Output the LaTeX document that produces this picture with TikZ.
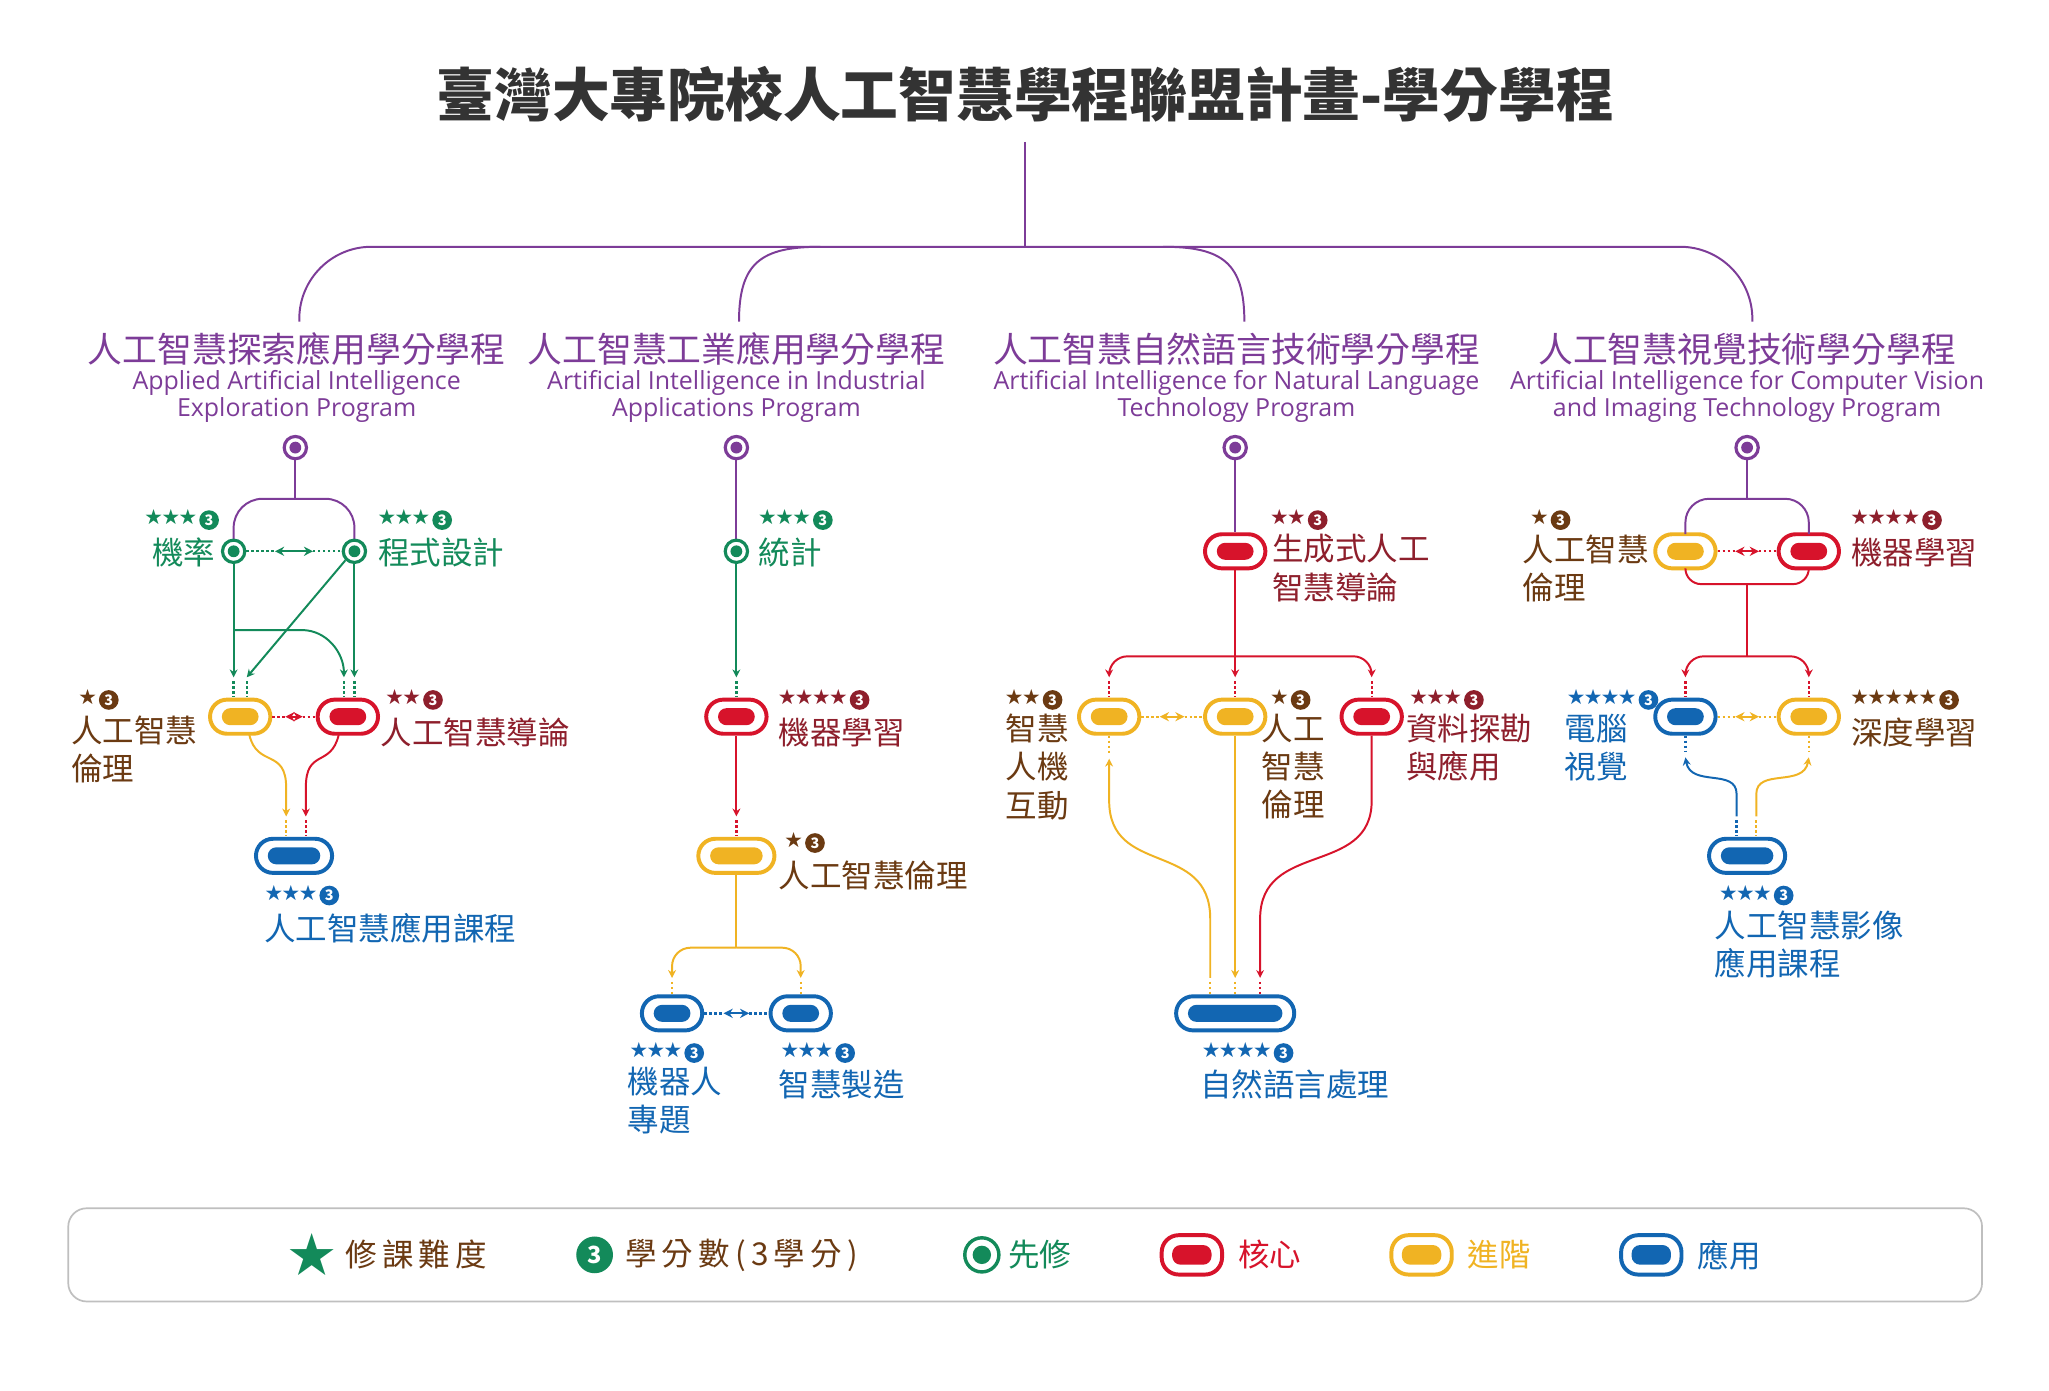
\documentclass[tikz,border=0pt]{standalone}
\usepackage{fontspec}
\setmainfont{Noto Sans CJK TC}
\newfontfamily\eng{Open Sans}
\usetikzlibrary{arrows.meta,calc}
\definecolor{cpur}{HTML}{7D3C98}
\definecolor{cgrn}{HTML}{138A5A}
\definecolor{corg}{HTML}{F0B323}
\definecolor{cred}{HTML}{D7132B}
\definecolor{cblu}{HTML}{1266B2}
\definecolor{cbrn}{HTML}{6B3A12}
\definecolor{cdrd}{HTML}{8E1F2C}
\definecolor{ctit}{HTML}{333333}
\newcommand\credit[1]{\tikz[baseline=-0.38ex]\node[circle,fill=#1,text=white,inner sep=0pt,minimum size=15pt,font=\bfseries\fontsize{11}{11}\selectfont]{3};}
\newcommand\pill[5]{\node[pillout=#4,minimum width=#5] (#1) at (#2,#3) {};
  \node[pillin=#4,minimum width={#5-18}] at (#2,#3) {};}
\newcommand\ring[4]{\node[ringo=#4] (#1) at (#2,#3) {}; \fill[#4] (#2,#3) circle (4.5);}
\newcommand\dbl[3]{\draw[#3,dotted,line width=1.8] (#1.east) -- ($(#1.east)!0.3!(#2.west)$);
  \draw[#3,{Stealth[length=7,width=7]}-{Stealth[length=7,width=7]},line width=1.4] ($(#1.east)!0.3!(#2.west)$) -- ($(#1.east)!0.7!(#2.west)$);
  \draw[#3,dotted,line width=1.8] ($(#1.east)!0.7!(#2.west)$) -- (#2.west);}
\begin{document}
\begin{tikzpicture}[x=1pt,y=-1pt,
  pillout/.style={draw=#1,line width=3pt,fill=white,rounded corners=13pt,minimum height=26pt,inner sep=0pt},
  pillin/.style={fill=#1,rounded corners=6.5pt,minimum height=13pt,inner sep=0pt},
  ringo/.style={circle,draw=#1,line width=2.4pt,fill=white,minimum size=17pt,inner sep=0pt},
  lab/.style={font=\fontsize{24}{29}\selectfont,align=left,inner sep=0pt,text=#1},
  st/.style={font=\fontsize{13}{13}\selectfont,inner sep=0pt,text=#1},
  ptit/.style={font=\fontsize{26.5}{28}\selectfont,text=cpur,inner sep=0pt},
  peng/.style={font=\eng\fontsize{19}{21}\selectfont,text=cpur,inner sep=0pt,align=center},
  ln/.style={draw=#1,line width=1.5pt},
  ar/.style={-{Stealth[length=6,width=6]}},
  ra/.style={{Stealth[length=6,width=6]}-},
  dt/.style={draw=#1,dotted,line width=1.8pt}]
\useasboundingbox (0,0) rectangle (1561,1059);
\fill[white] (0,0) rectangle (1561,1059);
% title
\node[font=\bfseries\fontsize{44}{46}\selectfont,text=ctit] (title) at (781,72) {臺灣大專院校人工智慧學程聯盟計畫-學分學程};
\draw[ln=cpur] (781,108) -- (781,188);
\draw[ln=cpur,rounded corners=55] (228,245) -- (228,188) -- (1335,188) -- (1335,245);
\draw[ln=cpur] (563,245) .. controls (563,200) and (580,188) .. (625,188);
\draw[ln=cpur] (948,245) .. controls (948,200) and (931,188) .. (886,188);
% program titles
\foreach \x/\c/\e in {226/人工智慧探索應用學分學程/{Applied Artificial Intelligence\\Exploration Program},
  561/人工智慧工業應用學分學程/{Artificial Intelligence in Industrial\\Applications Program},
  942/人工智慧自然語言技術學分學程/{Artificial Intelligence for Natural Language\\Technology Program},
  1331/人工智慧視覺技術學分學程/{Artificial Intelligence for Computer Vision\\and Imaging Technology Program}}{
  \node[ptit] at (\x,266) {\c};
  \node[peng] at (\x,302) {\e};}
\ring{t1}{225}{341}{cpur}
\ring{t2}{561}{341}{cpur}
\ring{t3}{941}{341}{cpur}
\ring{t4}{1331}{341}{cpur}
% ===== program 1
\draw[ln=cpur] (t1.south) -- (225,380);
\draw[ln=cpur,rounded corners=22] (178,412) -- (178,380) -- (270,380) -- (270,412);
\ring{a1}{178}{420}{cgrn}
\ring{a2}{270}{420}{cgrn}
\dbl{a1}{a2}{cgrn}
\node[lab=cgrn,anchor=east] at (164,421) {機率};
\node[st=cgrn,anchor=east] at (167,396) {★★★\,\credit{cgrn}};
\node[lab=cgrn,anchor=west] at (288,421) {程式設計};
\node[st=cgrn,anchor=west] at (288,396) {★★★\,\credit{cgrn}};
\pill{a3}{183}{546}{corg}{46}
\pill{a4}{265}{546}{cred}{46}
\dbl{a3}{a4}{cred}
\draw[ln=cgrn,ar] (a1.south) -- (178,516);
\draw[ln=cgrn,ar] (a2.south) -- (270,516);
\draw[ln=cgrn,ar] (a2.south west) -- (188,516);
\draw[ln=cgrn,ar] (178,480) -- (230,480) to[out=0,in=90] (262,516);
\foreach \x in {178,188,262,270} \draw[dt=cgrn] (\x,519) -- (\x,531);
\node[lab=cbrn,anchor=north west] at (54,545) {人工智慧\\倫理};
\node[st=cbrn,anchor=west] at (60,533) {★\,\credit{cbrn}};
\node[lab=cdrd,anchor=west] at (290,558) {人工智慧導論};
\node[st=cdrd,anchor=west] at (294,533) {★★\,\credit{cdrd}};
\pill{a5}{224}{652}{cblu}{58}
\draw[ln=corg,ar] (190,560) .. controls (196,585) and (218,570) .. (218,600) -- (218,622);
\draw[ln=cred,ar] (258,560) .. controls (252,585) and (233,570) .. (233,600) -- (233,622);
\draw[dt=corg] (218,625) -- (218,637);
\draw[dt=cred] (233,625) -- (233,637);
\node[st=cblu,anchor=west] at (202,682) {★★★\,\credit{cblu}};
\node[lab=cblu,anchor=west] at (201,707) {人工智慧應用課程};
% ===== program 2
\draw[ln=cpur] (t2.south) -- (561,412);
\ring{b1}{561}{420}{cgrn}
\node[lab=cgrn,anchor=west] at (578,421) {統計};
\node[st=cgrn,anchor=west] at (578,396) {★★★\,\credit{cgrn}};
\pill{b2}{561}{546}{cred}{46}
\draw[ln=cgrn,ar] (b1.south) -- (561,516);
\draw[dt=cgrn] (561,519) -- (561,531);
\node[lab=cdrd,anchor=west] at (593,558) {機器學習};
\node[st=cdrd,anchor=west] at (593,533) {★★★★\,\credit{cdrd}};
\pill{b3}{561}{652}{corg}{58}
\draw[ln=cred,ar] (b2.south) -- (561,622);
\draw[dt=cred] (561,625) -- (561,637);
\node[st=cbrn,anchor=west] at (598,642) {★\,\credit{cbrn}};
\node[lab=cbrn,anchor=west] at (593,667) {人工智慧倫理};
\draw[ln=corg] (b3.south) -- (561,722);
\draw[ln=corg,ar,rounded corners=14] (561,722) -| (512,745);
\draw[ln=corg,ar,rounded corners=14] (561,722) -| (610,745);
\draw[dt=corg] (512,748) -- (512,759);
\draw[dt=corg] (610,748) -- (610,759);
\pill{b4}{512}{772}{cblu}{46}
\pill{b5}{610}{772}{cblu}{46}
\dbl{b4}{b5}{cblu}
\node[st=cblu,anchor=west] at (480,802) {★★★\,\credit{cblu}};
\node[lab=cblu,anchor=north west] at (478,813) {機器人\\專題};
\node[st=cblu,anchor=west] at (595,802) {★★★\,\credit{cblu}};
\node[lab=cblu,anchor=west] at (593,826) {智慧製造};
% ===== program 3
\pill{c1}{941}{420}{cred}{46}
\draw[ln=cpur] (t3.south) -- (c1.north);
\node[st=cdrd,anchor=west] at (968,396) {★★\,\credit{cdrd}};
\node[lab=cdrd,anchor=north west] at (969,407) {生成式人工\\智慧導論};
\draw[ln=cred,ar] (c1.south) -- (941,516);
\draw[ln=cred,ar,rounded corners=14] (941,500) -| (845,516);
\draw[ln=cred,ar,rounded corners=14] (941,500) -| (1045,516);
\foreach \x in {845,941,1045} \draw[dt=cred] (\x,519) -- (\x,531);
\pill{c2}{845}{546}{corg}{46}
\pill{c3}{941}{546}{corg}{46}
\pill{c4}{1045}{546}{cred}{46}
\dbl{c2}{c3}{corg}
\node[st=cbrn,anchor=west] at (766,533) {★★\,\credit{cbrn}};
\node[lab=cbrn,anchor=north west] at (766,544) {智慧\\人機\\互動};
\node[st=cbrn,anchor=west] at (968,533) {★\,\credit{cbrn}};
\node[lab=cbrn,anchor=north west] at (961,544) {人工\\智慧\\倫理};
\node[st=cdrd,anchor=west] at (1074,533) {★★★\,\credit{cdrd}};
\node[lab=cdrd,anchor=north west] at (1071,544) {資料探勘\\與應用};
\pill{c5}{941}{772}{cblu}{90}
\draw[dt=corg] (c2.south) -- (845,574);
\draw[ln=corg,ra] (845,578) -- (845,610) .. controls (845,668) and (922,640) .. (922,700) -- (922,745);
\draw[ln=corg,ar] (c3.south) -- (941,745);
\draw[ln=cred,ar] (c4.south) -- (1045,610) .. controls (1045,668) and (960,640) .. (960,700) -- (960,745);
\draw[dt=corg] (922,748) -- (922,759);
\draw[dt=corg] (941,748) -- (941,759);
\draw[dt=cred] (960,748) -- (960,759);
\node[st=cblu,anchor=west] at (916,802) {★★★★\,\credit{cblu}};
\node[lab=cblu,anchor=west] at (914,826) {自然語言處理};
% ===== program 4
\draw[ln=cpur] (t4.south) -- (1331,380);
\pill{d1}{1284}{420}{corg}{46}
\pill{d2}{1378}{420}{cred}{46}
\draw[ln=cpur,rounded corners=18] (1284,407) -- (1284,380) -- (1378,380) -- (1378,407);
\draw[ln=cred,rounded corners=12] (1284,433) -- (1284,445) -- (1378,445) -- (1378,433);
\dbl{d1}{d2}{cred}
\node[st=cbrn,anchor=west] at (1166,396) {★\,\credit{cbrn}};
\node[lab=cbrn,anchor=north west] at (1160,407) {人工智慧\\倫理};
\node[st=cdrd,anchor=west] at (1410,396) {★★★★\,\credit{cdrd}};
\node[lab=cdrd,anchor=west] at (1410,421) {機器學習};
\draw[ln=cred] (1331,445) -- (1331,500);
\draw[ln=cred,ar,rounded corners=14] (1331,500) -| (1284,516);
\draw[ln=cred,ar,rounded corners=14] (1331,500) -| (1378,516);
\foreach \x in {1284,1378} \draw[dt=cred] (\x,519) -- (\x,531);
\pill{d3}{1284}{546}{cblu}{46}
\pill{d4}{1378}{546}{corg}{46}
\dbl{d3}{d4}{corg}
\node[st=cblu,anchor=west] at (1194,533) {★★★★\,\credit{cblu}};
\node[lab=cblu,anchor=north west] at (1192,544) {電腦\\視覺};
\node[st=cbrn,anchor=west] at (1410,533) {★★★★★\,\credit{cbrn}};
\node[lab=cbrn,anchor=west] at (1410,558) {深度學習};
\pill{d5}{1331}{652}{cblu}{58}
\draw[dt=cblu] (d3.south) -- (1284,572);
\draw[dt=corg] (d4.south) -- (1378,572);
\draw[ln=cblu,ra] (1284,577) .. controls (1288,600) and (1323,585) .. (1323,605) -- (1323,622);
\draw[ln=corg,ra] (1378,577) .. controls (1374,600) and (1338,585) .. (1338,605) -- (1338,622);
\draw[dt=cblu] (1323,625) -- (1323,637);
\draw[dt=corg] (1338,625) -- (1338,637);
\node[st=cblu,anchor=west] at (1310,682) {★★★\,\credit{cblu}};
\node[lab=cblu,anchor=north west] at (1306,694) {人工智慧影像\\應用課程};
% ===== legend
\node[draw=black!25,line width=1.3pt,rounded corners=14,minimum width=1458,minimum height=71,inner sep=0pt] (leg) at (781,956) {};
\node[text=cgrn,font=\fontsize{36}{36}\selectfont,inner sep=0pt] (l1) at (238,956) {★};
\node[text=cbrn,font=\fontsize{24}{24}\selectfont,anchor=west,inner sep=0pt] at (263,956) {修\,課\,難\,度};
\node[circle,fill=cgrn,text=white,inner sep=0pt,minimum size=28pt,font=\bfseries\fontsize{18}{18}\selectfont] (l2) at (453,956) {3};
\node[text=cbrn,font=\fontsize{24}{24}\selectfont,anchor=west,inner sep=0pt] at (476,956) {學\,分\,數\,(\,3\,學\,分\,)};
\node[circle,draw=cgrn,line width=2.6pt,minimum size=26pt,inner sep=0pt] (l3) at (748,956) {};
\fill[cgrn] (l3.center) circle (7);
\node[text=cgrn,font=\fontsize{24}{24}\selectfont,anchor=west,inner sep=0pt] at (768,956) {先修};
\node[pillout=cred,minimum width=46,minimum height=30] (l4) at (908,956) {};
\node[pillin=cred,minimum width=30,minimum height=15] at (908,956) {};
\node[text=cred,font=\fontsize{24}{24}\selectfont,anchor=west,inner sep=0pt] at (943,956) {核心};
\node[pillout=corg,minimum width=46,minimum height=30] (l5) at (1083,956) {};
\node[pillin=corg,minimum width=30,minimum height=15] at (1083,956) {};
\node[text=corg,font=\fontsize{24}{24}\selectfont,anchor=west,inner sep=0pt] at (1118,956) {進階};
\node[pillout=cblu,minimum width=46,minimum height=30] (l6) at (1258,956) {};
\node[pillin=cblu,minimum width=30,minimum height=15] at (1258,956) {};
\node[text=cblu,font=\fontsize{24}{24}\selectfont,anchor=west,inner sep=0pt] at (1293,956) {應用};
\end{tikzpicture}
\end{document}
